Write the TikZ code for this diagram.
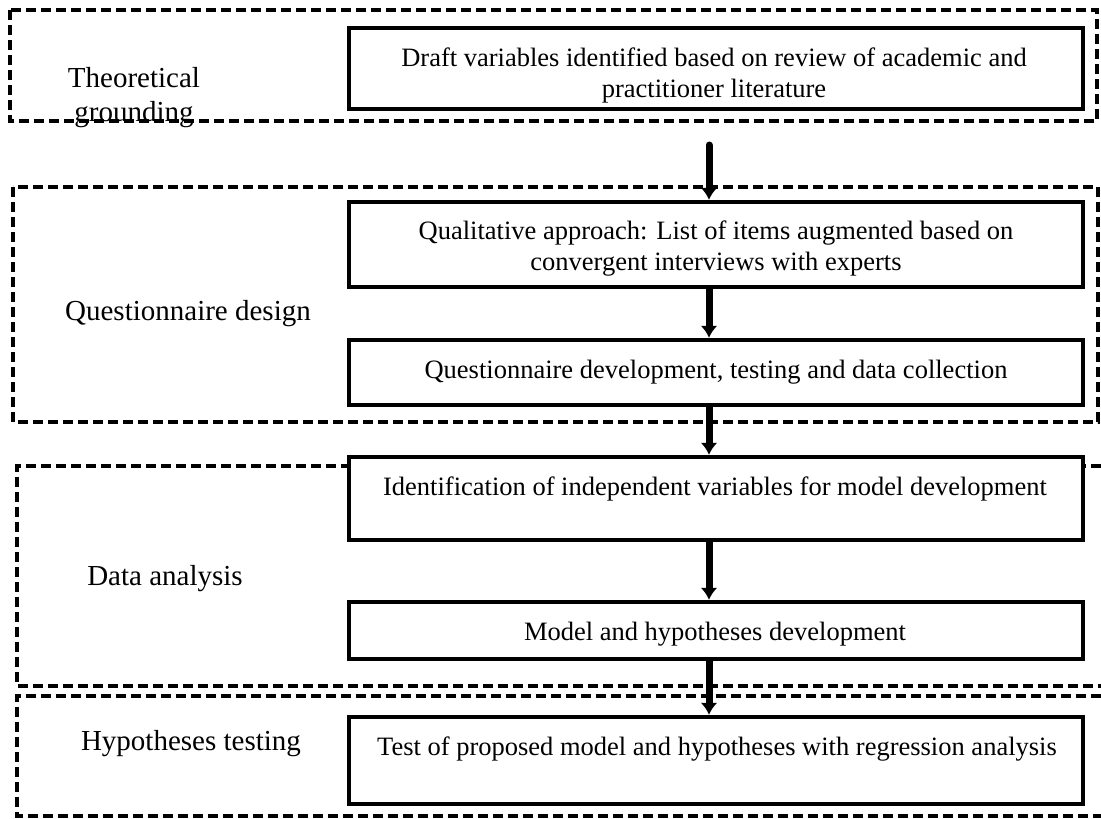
\documentclass[tikz,border=0pt]{standalone}
\usepackage{fontspec}
\setmainfont{Liberation Serif}
\usetikzlibrary{arrows.meta,positioning,calc}

\begin{document}
\begin{tikzpicture}[x=1pt,y=-1pt,
    flowbox/.style={draw,fill=white,line width=4.5pt,minimum width=734pt,inner sep=0pt},
    phase/.style={draw,line width=3.5pt,dash pattern=on 10pt off 5pt},
    txt/.style={font=\fontsize{26.5}{31}\selectfont,align=center,inner sep=0pt},
    phasename/.style={txt,font=\fontsize{29}{34}\selectfont},
    flow/.style={line width=7pt,-{Latex[length=12pt,width=17pt]}}]
    \useasboundingbox (0,0) rectangle (1101,819);

    % dashed phase frames
    \draw[phase] (10,10) rectangle (1097,121);
    \draw[phase] (13,187) rectangle (1098,422);
    \draw[phase] (1101,466) -| (17,686) -- (1101,686);
    \draw[phase] (1101,696) -| (17,816) -- (1101,816);

    % step boxes
    \node[flowbox,minimum height=81pt] (draft) at (716,68.5) {};
    \node[flowbox,minimum height=85pt] (qual) at (716,244.5) {};
    \node[flowbox,minimum height=65pt] (quest) at (716,372.5) {};
    \node[flowbox,minimum height=83pt] (ident) at (716,498.5) {};
    \node[flowbox,minimum height=57pt] (model) at (716,630.5) {};
    \node[flowbox,minimum height=87pt] (test) at (716,760.5) {};

    \node[txt] (draftText) at (714,75) {Draft variables identified based on review of academic and\\practitioner literature};
    \node[txt] (qualText) at (716,249) {Qualitative approach: List of items augmented based on\\convergent interviews with experts};
    \node[txt] (questText) at (716,372) {Questionnaire development, testing and data collection};
    \node[txt] (identText) at (715,489) {Identification of independent variables for model development};
    \node[txt] (modelText) at (715,634) {Model and hypotheses development};
    \node[txt] (testText) at (717,749) {Test of proposed model and hypotheses with regression analysis};

    % phase names
    \node[phasename] (theory) at (134,98) {Theoretical\\grounding};
    \node[phasename] (design) at (188,314) {Questionnaire design};
    \node[phasename] (analysis) at (165,579) {Data analysis};
    \node[phasename] (testing) at (191,744) {Hypotheses testing};

    % arrows down the spine
    \coordinate (spine) at (709,145);
    \draw[flow,line cap=round] (spine) -- (spine |- qual.north);
    \draw[flow] (spine |- qual.south) -- (spine |- quest.north);
    \draw[flow] (spine |- quest.south) -- (spine |- ident.north);
    \draw[flow] (spine |- ident.south) -- (spine |- model.north);
    \draw[flow] (spine |- model.south) -- (spine |- test.north);
\end{tikzpicture}
\end{document}
